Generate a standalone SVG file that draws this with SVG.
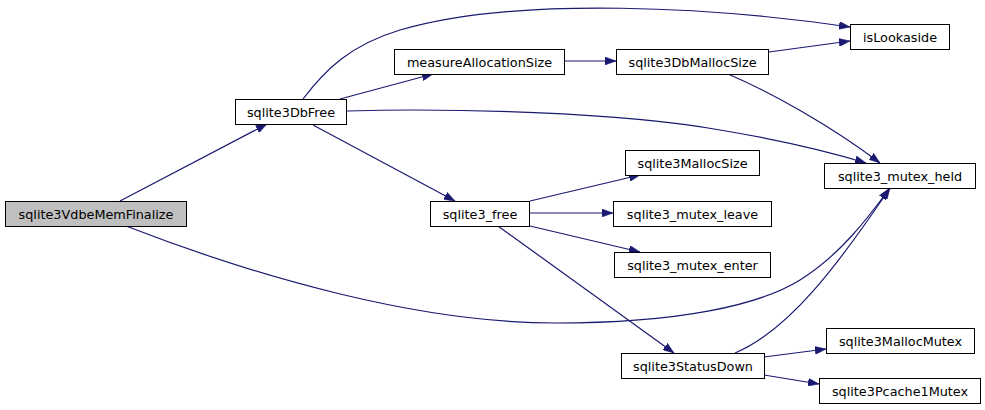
<svg xmlns="http://www.w3.org/2000/svg" width="985" height="410" viewBox="0 0 985 410">
<style>
.node rect{fill:#ffffff;stroke:#000000;stroke-width:1}
.node.root rect{fill:#bfbfbf}
.node text{font-family:"DejaVu Sans",sans-serif;font-size:12.8px;fill:#000000;text-anchor:middle}
.edges path{fill:none;stroke:#191970;stroke-width:1.2}
</style>
<defs>
<marker id="ah" viewBox="0 0 11 8" refX="11" refY="4" markerWidth="11" markerHeight="8" markerUnits="userSpaceOnUse" orient="auto">
<path d="M0,0 L11,4 L0,8 z" fill="#191970" stroke="#191970" stroke-width="0.5"/>
</marker>
</defs>
<rect width="985" height="410" fill="#ffffff"/>
<g class="edges">
<path d="M120,201 L267,124" marker-end="url(#ah)"/>
<path d="M126,226 C260,278 420,323 555,323 C680,323 760,305 800,280 C840,255 868,218 889,189" marker-end="url(#ah)"/>
<path d="M303,99 C325,70 350,45 400,30 C520,-5 720,8 850,27" marker-end="url(#ah)"/>
<path d="M340,99 L433,74" marker-end="url(#ah)"/>
<path d="M347,111 C450,108 620,112 720,130 C780,140 830,152 866,163" marker-end="url(#ah)"/>
<path d="M313,125 L455,201" marker-end="url(#ah)"/>
<path d="M565,61 L616,61" marker-end="url(#ah)"/>
<path d="M769,52 L850,41" marker-end="url(#ah)"/>
<path d="M728,74 C770,92 830,125 880,163" marker-end="url(#ah)"/>
<path d="M530,201 L640,175" marker-end="url(#ah)"/>
<path d="M529,213 L613,213" marker-end="url(#ah)"/>
<path d="M530,226 L640,252" marker-end="url(#ah)"/>
<path d="M498,226 L674,353" marker-end="url(#ah)"/>
<path d="M735,353 C790,330 840,262 890,188" marker-end="url(#ah)"/>
<path d="M764,357 L826,349" marker-end="url(#ah)"/>
<path d="M764,375 L819,384" marker-end="url(#ah)"/>
</g>
<g id="sqlite3VdbeMemFinalize" class="node root"><rect x="5.5" y="201.5" width="181" height="25"/><text x="96" y="218.5">sqlite3VdbeMemFinalize</text></g>
<g id="sqlite3DbFree" class="node"><rect x="235.5" y="99.5" width="111" height="25"/><text x="291" y="116.5">sqlite3DbFree</text></g>
<g id="measureAllocationSize" class="node"><rect x="394.5" y="49.5" width="170" height="25"/><text x="479.5" y="66.5">measureAllocationSize</text></g>
<g id="sqlite3DbMallocSize" class="node"><rect x="616.5" y="49.5" width="152" height="25"/><text x="692.5" y="66.5">sqlite3DbMallocSize</text></g>
<g id="isLookaside" class="node"><rect x="850.5" y="24.5" width="99" height="25"/><text x="900" y="41.5">isLookaside</text></g>
<g id="sqlite3_mutex_held" class="node"><rect x="824.5" y="163.5" width="151" height="25"/><text x="900" y="180.5">sqlite3_mutex_held</text></g>
<g id="sqlite3MallocSize" class="node"><rect x="625.5" y="150.5" width="134" height="25"/><text x="692.5" y="167.5">sqlite3MallocSize</text></g>
<g id="sqlite3_free" class="node"><rect x="430.5" y="201.5" width="99" height="25"/><text x="480" y="218.5">sqlite3_free</text></g>
<g id="sqlite3_mutex_leave" class="node"><rect x="613.5" y="201.5" width="158" height="25"/><text x="692.5" y="218.5">sqlite3_mutex_leave</text></g>
<g id="sqlite3_mutex_enter" class="node"><rect x="614.5" y="252.5" width="156" height="25"/><text x="692.5" y="269.5">sqlite3_mutex_enter</text></g>
<g id="sqlite3StatusDown" class="node"><rect x="621.5" y="353.5" width="143" height="25"/><text x="693" y="370.5">sqlite3StatusDown</text></g>
<g id="sqlite3MallocMutex" class="node"><rect x="826.5" y="328.5" width="148" height="25"/><text x="900.5" y="345.5">sqlite3MallocMutex</text></g>
<g id="sqlite3Pcache1Mutex" class="node"><rect x="819.5" y="378.5" width="161" height="25"/><text x="900" y="395.5">sqlite3Pcache1Mutex</text></g>
</svg>
